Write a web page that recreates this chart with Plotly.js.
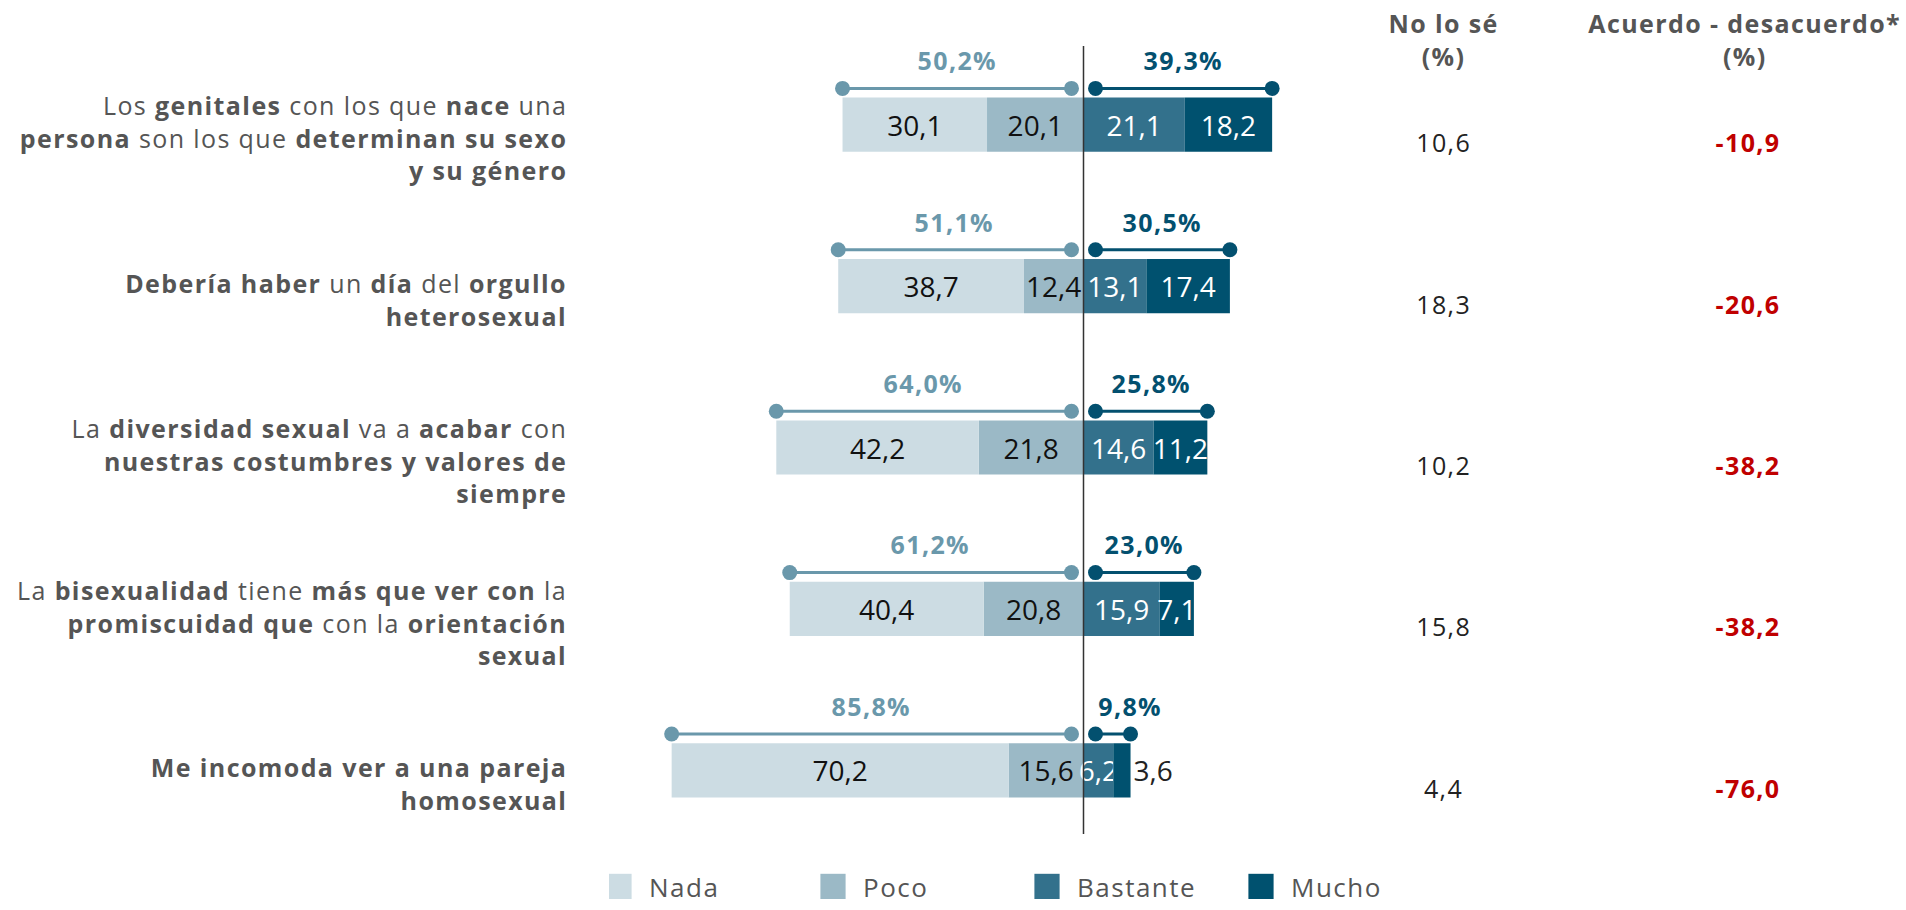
<!DOCTYPE html>
<html>
<head>
<meta charset="utf-8">
<script src="https://cdn.plot.ly/plotly-3.0.1.min.js"></script>
<style>
html,body{margin:0;padding:0;background:#fff;}
#chart{width:1906px;height:910px;}
#chart .infolayer .annotation text{letter-spacing:1.4px;}
#chart .legendtext{letter-spacing:1.5px;}
</style>
</head>
<body>
<div id="chart"></div>
<script>
// ---- data ----
const categories = [
  "Los <b>genitales</b> con los que <b>nace</b> una<br><b>persona</b> son los que <b>determinan su sexo</b><br><b>y su género</b>",
  "<b>Debería haber</b> un <b>día</b> del <b>orgullo</b><br><b>heterosexual</b>",
  "La <b>diversidad sexual</b> va a <b>acabar</b> con<br><b>nuestras costumbres y valores de</b><br><b>siempre</b>",
  "La <b>bisexualidad</b> tiene <b>más que ver con</b> la<br><b>promiscuidad que</b> con la <b>orientación</b><br><b>sexual</b>",
  "<b>Me incomoda ver a una pareja</b><br><b>homosexual</b>"
];
const seriesNames = ["Nada", "Poco", "Bastante", "Mucho"];
const nada     = [30.1, 38.7, 42.2, 40.4, 70.2];
const poco     = [20.1, 12.4, 21.8, 20.8, 15.6];
const bastante = [21.1, 13.1, 14.6, 15.9, 6.2];
const mucho    = [18.2, 17.4, 11.2, 7.1, 3.6];
const desacuerdoTotal = [50.2, 51.1, 64.0, 61.2, 85.8];
const acuerdoTotal    = [39.3, 30.5, 25.8, 23.0, 9.8];
const noLoSe          = [10.6, 18.3, 10.2, 15.8, 4.4];
const acuerdoMenosDesacuerdo = [-10.9, -20.6, -38.2, -38.2, -76.0];
const headerNoLoSe  = ["No lo sé", "(%)"];
const headerAcuerdo = ["Acuerdo - desacuerdo*", "(%)"];

// ---- styling ----
const FONT = "Open Sans, Noto Sans, sans-serif";
const colors = { Nada: "#ccdce3", Poco: "#9bb9c6", Bastante: "#33718c", Mucho: "#00516f" };
const leftDot = "#6a98ab", rightDot = "#03506f";
const fmt = v => v.toFixed(1).replace(".", ",");
const idx = categories.map((_, i) => i);
const BAR_W = 0.336;
const GAP = 2.5;          // inner gap of dumbbells (data units)
const DB_OFF = -0.225;    // dumbbell offset from bar center
const LBL_OFF = -0.40;    // percentage label offset

function barTrace(name, vals, sign, rank, txtColor) {
  return {
    type: "bar", orientation: "h", name: name,
    x: vals.map(v => sign * v), y: idx, width: BAR_W,
    marker: { color: colors[name], line: { width: 0 } },
    text: vals.map(fmt),
    textposition: vals.map(v => (name === "Mucho" && v < 5) ? "outside" : "inside"),
    insidetextanchor: "middle", textangle: 0, constraintext: "none",
    insidetextfont: { family: FONT, size: 28, color: txtColor },
    outsidetextfont: { family: FONT, size: 28, color: "#222" },
    cliponaxis: false,
    legendrank: rank, hoverinfo: "skip"
  };
}

const traces = [
  barTrace(seriesNames[1], poco, -1, 2, "#111"),
  barTrace(seriesNames[0], nada, -1, 1, "#111"),
  barTrace(seriesNames[2], bastante, 1, 3, "#fff"),
  barTrace(seriesNames[3], mucho, 1, 4, "#fff")
];

// dumbbells
const lx = [], ly = [], rx = [], ry = [];
idx.forEach(i => {
  lx.push(-desacuerdoTotal[i], -GAP, null); ly.push(i + DB_OFF, i + DB_OFF, null);
  rx.push(GAP, acuerdoTotal[i], null);      ry.push(i + DB_OFF, i + DB_OFF, null);
});
traces.push({ type: "scatter", mode: "lines+markers", x: lx, y: ly, showlegend: false, hoverinfo: "skip",
  line: { color: leftDot, width: 3 }, marker: { color: leftDot, size: 15 }, cliponaxis: false });
traces.push({ type: "scatter", mode: "lines+markers", x: rx, y: ry, showlegend: false, hoverinfo: "skip",
  line: { color: rightDot, width: 3 }, marker: { color: rightDot, size: 15 }, cliponaxis: false });

const annotations = [];
const W = 1906, H = 910;
idx.forEach(i => {
  annotations.push({ xref: "paper", yref: "y", x: 569 / W, y: i + 0.082, xanchor: "right", yanchor: "middle",
    align: "right", showarrow: false, text: categories[i], font: { family: FONT, size: 25, color: "#555" } });
  const lm = -(desacuerdoTotal[i] + GAP) / 2;
  annotations.push({ xref: "x", yref: "y", x: lm, y: i + LBL_OFF, xanchor: "center", yanchor: "middle",
    showarrow: false, text: "<b>" + fmt(desacuerdoTotal[i]) + "%</b>", font: { family: FONT, size: 25, color: leftDot } });
  const rm = (acuerdoTotal[i] + GAP) / 2;
  const narrow = rm - 6.5 < GAP;
  annotations.push({ xref: "x", yref: "y", x: narrow ? GAP + 0.7 : rm, y: i + LBL_OFF, xanchor: narrow ? "left" : "center",
    yanchor: "middle", showarrow: false, text: "<b>" + fmt(acuerdoTotal[i]) + "%</b>", font: { family: FONT, size: 25, color: rightDot } });
  annotations.push({ xref: "paper", yref: "y", x: 1443 / W, y: i + 0.108, xanchor: "center", yanchor: "middle",
    showarrow: false, text: fmt(noLoSe[i]), font: { family: FONT, size: 25, color: "#222" } });
  annotations.push({ xref: "paper", yref: "y", x: 1748 / W, y: i + 0.108, xanchor: "center", yanchor: "middle",
    showarrow: false, text: "<b>" + fmt(acuerdoMenosDesacuerdo[i]) + "</b>", font: { family: FONT, size: 25, color: "#c00000" } });
});
annotations.push({ xref: "paper", yref: "paper", x: 1443 / W, y: 1 - 40 / H, xanchor: "center", yanchor: "middle",
  showarrow: false, text: headerNoLoSe.map(s => "<b>" + s + "</b>").join("<br>"), font: { family: FONT, size: 25, color: "#555" } });
annotations.push({ xref: "paper", yref: "paper", x: 1744 / W, y: 1 - 40 / H, xanchor: "center", yanchor: "middle",
  showarrow: false, text: headerAcuerdo.map(s => "<b>" + s + "</b>").join("<br>"), font: { family: FONT, size: 25, color: "#555" } });

const PXU = 4.80, CX = 1083.5;
const layout = {
  width: W, height: H,
  margin: { l: 0, r: 0, t: 0, b: 0, pad: 0, autoexpand: false },
  paper_bgcolor: "#fff", plot_bgcolor: "#fff",
  barmode: "relative",
  font: { family: FONT },
  xaxis: { range: [-CX / PXU, (W - CX) / PXU], visible: false, fixedrange: true },
  yaxis: { range: [(H - 124.7) / 161.4, -124.7 / 161.4], visible: false, fixedrange: true },
  showlegend: true,
  legend: { orientation: "h", x: 609 / W, xanchor: "left", y: 0, yanchor: "bottom",
    entrywidth: 169, entrywidthmode: "pixels", traceorder: "normal", borderwidth: 0,
    font: { family: FONT, size: 26, color: "#555" }, bgcolor: "rgba(0,0,0,0)" },
  shapes: [{ type: "line", xref: "x", yref: "y", x0: 0, x1: 0, y0: -0.488, y1: 4.395,
    line: { color: "#333", width: 1.5 }, layer: "above" }],
  annotations: annotations
};

Plotly.newPlot("chart", traces, layout, { staticPlot: true, displayModeBar: false }).then(() => {
  document.querySelectorAll("#chart .legend .legendpoints path").forEach(p => {
    const t = p.getAttribute("transform") || "";
    p.setAttribute("transform", t + " translate(-10,0) scale(2.1)");
  });
});
</script>
</body>
</html>
